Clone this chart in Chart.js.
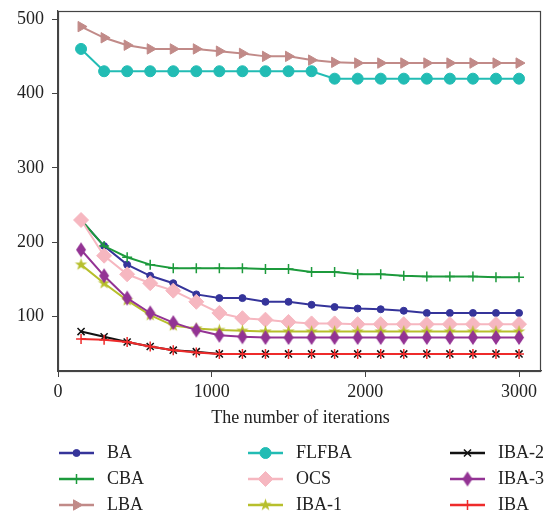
<!DOCTYPE html>
<html>
<head>
<meta charset="utf-8">
<script src="https://cdn.jsdelivr.net/npm/chart.js@4.4.0/dist/chart.umd.min.js"></script>
<style>
  html, body { margin: 0; padding: 0; background: #fff; }
  #wrap { width: 546px; height: 516px; }
</style>
</head>
<body>
<div id="wrap"><canvas id="chart" width="546" height="516"></canvas></div>
<script>
// values
const iterations = [150, 300, 450, 600, 750, 900, 1050, 1200, 1350, 1500,
  1650, 1800, 1950, 2100, 2250, 2400, 2550, 2700, 2850, 3000];

const BA    = [230, 195, 170, 155, 145, 130, 125, 125, 120, 120, 116, 113, 111, 110, 108, 105, 105, 105, 105, 105];
const CBA   = [230, 195, 180, 170, 165, 165, 165, 165, 164, 164, 160, 160, 157, 157, 155, 154, 154, 154, 153, 153];
const LBA   = [490, 475, 465, 460, 460, 460, 457, 454, 450, 450, 445, 442, 441, 441, 441, 441, 441, 441, 441, 441];
const FLFBA = [460, 430, 430, 430, 430, 430, 430, 430, 430, 430, 430, 420, 420, 420, 420, 420, 420, 420, 420, 420];
const OCS   = [230, 182, 157, 145, 135, 120, 105, 98, 96, 93, 91, 91, 90, 90, 90, 90, 90, 90, 90, 90];
const IBA1  = [170, 145, 122, 102, 88, 84, 82, 81, 80, 80, 80, 80, 80, 80, 80, 80, 80, 80, 80, 80];
const IBA2  = [80, 73, 66, 60, 55, 53, 50, 50, 50, 50, 50, 50, 50, 50, 50, 50, 50, 50, 50, 50];
const IBA3  = [190, 155, 125, 105, 92, 82, 75, 73, 72, 72, 72, 72, 72, 72, 72, 72, 72, 72, 72, 72];
const IBA   = [70, 69, 66, 60, 55, 52, 50, 50, 50, 50, 50, 50, 50, 50, 50, 50, 50, 50, 50, 50];

const xTicks = [0, 1000, 2000, 3000];
const yTicks = [100, 200, 300, 400, 500];

const FONT = "'Liberation Serif', 'DejaVu Serif', serif";
const AXIS_COLOR = '#444';

// legend grid, columns filled top to bottom
const legendColX = [59, 248, 450];
const legendRowY = [453, 479, 505];

// marker images for styles chart.js doesn't have
function starMarker(color, r) {
  const c = document.createElement('canvas');
  c.width = c.height = Math.ceil(r * 2 + 2);
  const g = c.getContext('2d');
  const cx = c.width / 2, cy = c.height / 2;
  g.beginPath();
  for (let i = 0; i < 10; i++) {
    const rad = i % 2 === 0 ? r : r * 0.4;
    const a = -Math.PI / 2 + i * Math.PI / 5;
    g.lineTo(cx + rad * Math.cos(a), cy + rad * Math.sin(a));
  }
  g.closePath();
  g.fillStyle = color;
  g.fill();
  return c;
}

function thinDiamond(color, w, h) {
  const c = document.createElement('canvas');
  c.width = w + 2;
  c.height = h + 2;
  const g = c.getContext('2d');
  const cx = c.width / 2, cy = c.height / 2;
  g.beginPath();
  g.moveTo(cx, cy - h / 2);
  g.lineTo(cx + w / 2, cy);
  g.lineTo(cx, cy + h / 2);
  g.lineTo(cx - w / 2, cy);
  g.closePath();
  g.fillStyle = color;
  g.fill();
  return c;
}

function series(label, values, color, style, radius, extra) {
  return Object.assign({
    label: label,
    data: iterations.map((x, i) => ({ x: x, y: values[i] })),
    borderColor: color,
    backgroundColor: color,
    pointBackgroundColor: color,
    pointBorderColor: color,
    borderWidth: 2,
    pointStyle: style,
    pointRadius: radius,
    pointHoverRadius: radius,
    pointBorderWidth: 1,
    tension: 0,
    fill: false,
  }, extra || {});
}

const datasets = [
  series('BA', BA, '#35349a', 'circle', 3.5),
  series('CBA', CBA, '#1c9a3c', 'cross', 5, { pointBorderWidth: 1.5 }),
  series('LBA', LBA, '#c18a88', 'triangle', 6, { pointRotation: 90 }),
  series('FLFBA', FLFBA, '#22bcb4', 'circle', 5.5),
  series('OCS', OCS, '#f6b7c0', 'rectRot', 7.5),
  series('IBA-1', IBA1, '#b7bf2c', starMarker('#b7bf2c', 6.5), 6),
  series('IBA-2', IBA2, '#111111', 'crossRot', 5, { pointBorderWidth: 1.5 }),
  series('IBA-3', IBA3, '#933394', thinDiamond('#933394', 10, 15), 7),
  series('IBA', IBA, '#ee2b2b', 'cross', 5, { pointBorderWidth: 1.5 }),
];
// later series sit on top, like the original
datasets.forEach((d, i) => { d.order = datasets.length - i; });

const framePlugin = {
  id: 'frame',
  afterDatasetsDraw(chart) {
    const { ctx, chartArea: a } = chart;
    ctx.save();
    ctx.strokeStyle = AXIS_COLOR;
    ctx.lineWidth = 1.2;
    ctx.strokeRect(Math.round(a.left) + 0.5, Math.round(a.top) + 0.5,
      Math.round(a.right - a.left) - 1, Math.round(a.bottom - a.top));
    ctx.restore();
  }
};

const titleLegendPlugin = {
  id: 'titleLegend',
  afterDraw(chart) {
    const { ctx, chartArea: a } = chart;
    ctx.save();
    ctx.fillStyle = '#222';
    ctx.font = '18px ' + FONT;
    ctx.textAlign = 'center';
    ctx.textBaseline = 'middle';
    ctx.fillText('The number of iterations', (a.left + a.right) / 2 + 1, 418);

    ctx.textAlign = 'left';
    chart.data.datasets.forEach((ds, i) => {
      const x0 = legendColX[Math.floor(i / 3)];
      const y = legendRowY[i % 3];
      ctx.strokeStyle = ds.borderColor;
      ctx.lineWidth = 2.5;
      ctx.beginPath();
      ctx.moveTo(x0, y);
      ctx.lineTo(x0 + 35, y);
      ctx.stroke();
      ctx.fillStyle = ds.pointBackgroundColor;
      ctx.strokeStyle = ds.pointBorderColor;
      ctx.lineWidth = ds.pointBorderWidth;
      Chart.helpers.drawPoint(ctx, {
        pointStyle: ds.pointStyle,
        rotation: ds.pointRotation || 0,
        radius: ds.pointRadius,
        borderWidth: ds.pointBorderWidth,
      }, x0 + 17.5, y);
      ctx.fillStyle = '#222';
      ctx.font = '18px ' + FONT;
      ctx.fillText(ds.label, x0 + 48, y);
    });
    ctx.restore();
  }
};

new Chart(document.getElementById('chart'), {
  type: 'line',
  data: { datasets: datasets },
  plugins: [framePlugin, titleLegendPlugin],
  options: {
    responsive: false,
    animation: false,
    devicePixelRatio: 1,
    layout: { autoPadding: false, padding: { left: 0, top: 11, right: 5, bottom: 0 } },
    plugins: {
      legend: { display: false },
      tooltip: { enabled: false },
    },
    scales: {
      x: {
        type: 'linear',
        min: 0,
        max: 3143,
        afterFit: (scale) => {
          scale.height = 145;
          scale.paddingLeft = 0;
          scale.paddingRight = 0;
        },
        afterBuildTicks: (scale) => { scale.ticks = xTicks.map(v => ({ value: v })); },
        grid: { drawOnChartArea: false, drawTicks: true, tickLength: 6, color: AXIS_COLOR },
        border: { color: AXIS_COLOR, width: 1.2 },
        ticks: {
          color: '#222',
          font: { family: FONT, size: 18 },
          padding: 4,
          maxRotation: 0,
          callback: (v) => String(v),
        },
      },
      y: {
        type: 'linear',
        min: 27,
        max: 511,
        afterFit: (scale) => {
          scale.width = 58;
          scale.paddingTop = 0;
          scale.paddingBottom = 0;
        },
        afterBuildTicks: (scale) => { scale.ticks = yTicks.map(v => ({ value: v })); },
        grid: { drawOnChartArea: false, drawTicks: true, tickLength: 6, color: AXIS_COLOR },
        border: { color: AXIS_COLOR, width: 1.2 },
        ticks: {
          color: '#222',
          font: { family: FONT, size: 18 },
          padding: 8,
          callback: (v) => String(v),
        },
      },
    },
  },
});
</script>
</body>
</html>
